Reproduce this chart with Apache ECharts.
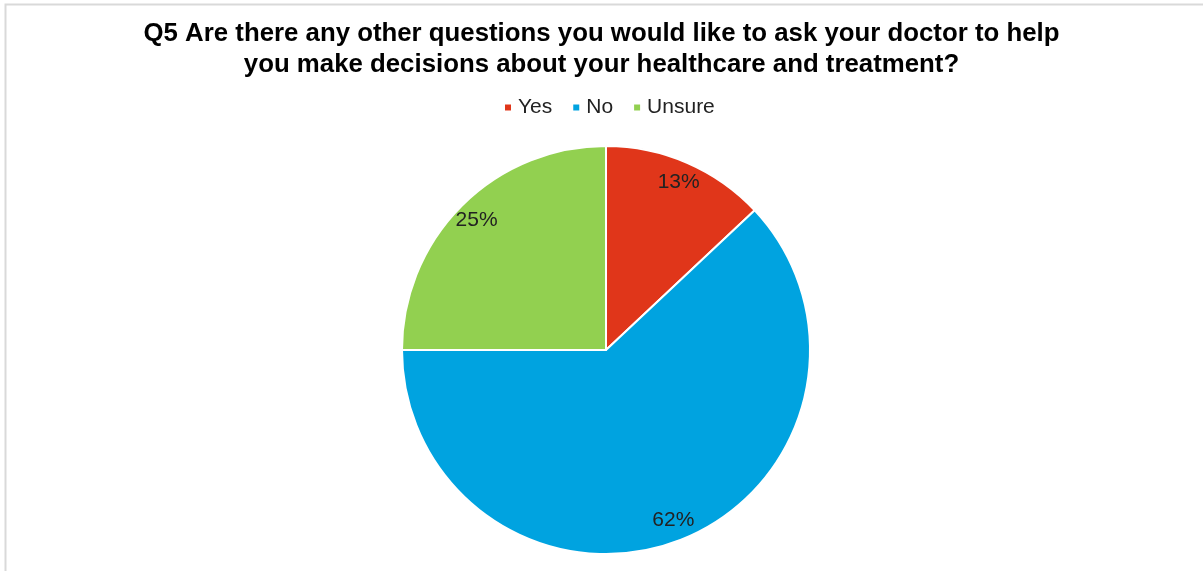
<!DOCTYPE html>
<html>
<head>
<meta charset="utf-8">
<script src="https://cdn.jsdelivr.net/npm/echarts@6/dist/echarts.min.js"></script>
<style>
html,body{margin:0;padding:0;background:#fff;}
#chart{width:1203px;height:571px;}
</style>
</head>
<body>
<div id="chart"></div>
<script>
const titleText = 'Q5 Are there any other questions you would like to ask your doctor to help\nyou make decisions about your healthcare and treatment?';
const categories = ['Yes', 'No', 'Unsure'];
const values = [13, 62, 25];
const colors = ['#E0361A', '#00A3E0', '#92D050'];

const data = categories.map((c, i) => ({ name: c, value: values[i], itemStyle: { color: colors[i] } }));
const font = "Arial, 'Liberation Sans', sans-serif";

const chart = echarts.init(document.getElementById('chart'));
chart.setOption({
  animation: false,
  backgroundColor: '#fff',
  graphic: [{
    type: 'rect', silent: true,
    shape: { x: 5.5, y: 4.5, width: 1400, height: 800 },
    style: { fill: 'none', stroke: '#d9d9d9', lineWidth: 2 }
  }],
  title: {
    text: titleText,
    left: 'center', top: 13,
    textStyle: { fontFamily: font, fontSize: 25.8, fontWeight: 'bold', color: '#000', lineHeight: 31 }
  },
  legend: {
    data: categories,
    top: 92, left: 498,
    icon: 'rect', itemWidth: 8, itemHeight: 8, itemGap: 19,
    textStyle: { fontFamily: font, fontSize: 21, color: '#222', padding: [0, 0, 0, 1] }
  },
  series: [{
    type: 'pie',
    center: [606, 350], radius: [0, 204],
    startAngle: 90, clockwise: true,
    label: { show: false }, labelLine: { show: false },
    itemStyle: { borderColor: '#fff', borderWidth: 2 },
    emphasis: { disabled: true },
    data: data
  }, {
    type: 'pie', silent: true,
    center: [606, 350], radius: [156, 204],
    startAngle: 90, clockwise: true,
    itemStyle: { color: 'transparent' },
    label: {
      show: true, position: 'inside',
      formatter: p => p.value + '%',
      fontFamily: font, fontSize: 21, color: '#222'
    },
    labelLine: { show: false },
    emphasis: { disabled: true },
    legendHoverLink: false,
    data: categories.map((c, i) => ({ name: c + ' ', value: values[i] }))
  }]
});
</script>
</body>
</html>
